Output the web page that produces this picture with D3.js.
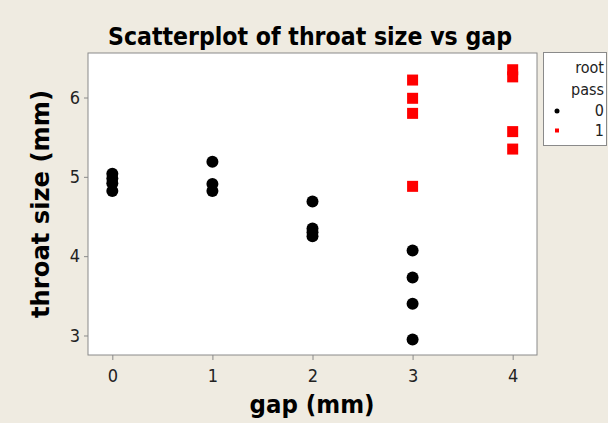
<!DOCTYPE html>
<html>
<head>
<meta charset="utf-8">
<script src="https://cdn.jsdelivr.net/npm/d3@7/dist/d3.min.js"></script>
<style>
  html, body { margin: 0; padding: 0; background: #efebe1; }
  svg { display: block; }
  .tick-label { font-family: "DejaVu Sans Condensed", "DejaVu Sans", sans-serif; font-size: 18px; fill: #222; }
  .axis-title { font-family: "DejaVu Sans Condensed", "DejaVu Sans", sans-serif; font-weight: bold; font-size: 24px; fill: #000; }
  .legend-text { font-family: "DejaVu Sans Condensed", "DejaVu Sans", sans-serif; font-size: 16px; fill: #222; }
</style>
</head>
<body>
<script>
  // gap (mm) / throat size (mm), split by root pass
  var gap0 = [0, 0, 0, 0, 1, 1, 1, 2, 2, 2, 2, 3, 3, 3, 3];
  var throat0 = [5.04, 4.98, 4.92, 4.82, 5.19, 4.91, 4.82, 4.69, 4.35, 4.30, 4.25, 4.07, 3.73, 3.40, 2.95];
  var gap1 = [3, 3, 3, 3, 4, 4, 4, 4];
  var throat1 = [6.22, 5.99, 5.80, 4.88, 6.35, 6.26, 5.57, 5.35];
  var xTicks = [0, 1, 2, 3, 4];
  var yTicks = [3, 4, 5, 6];
  var legendLabels = ['0', '1'];

  var width = 608, height = 423;
  var frame = { left: 88, right: 537, top: 53, bottom: 355 };

  var svg = d3.select('body').append('svg')
    .attr('width', width)
    .attr('height', height);

  svg.append('rect')
    .attr('width', width)
    .attr('height', height)
    .attr('fill', '#efebe1');

  var x = d3.scaleLinear()
    .domain([-0.243, 4.243])
    .range([frame.left, frame.right]);

  var y = d3.scaleLinear()
    .domain([2.754, 6.561])
    .range([frame.bottom, frame.top]);

  // plot area
  svg.append('rect')
    .attr('x', frame.left)
    .attr('y', frame.top)
    .attr('width', frame.right - frame.left)
    .attr('height', frame.bottom - frame.top)
    .attr('fill', '#fff')
    .attr('stroke', '#8a8a8a')
    .attr('stroke-width', 1);

  // x axis ticks
  var xAxis = svg.append('g')
    .attr('transform', 'translate(0,' + frame.bottom + ')')
    .call(d3.axisBottom(x).tickValues(xTicks).tickSize(5).tickPadding(9).tickFormat(d3.format('d')));
  xAxis.select('.domain').remove();
  xAxis.selectAll('line').attr('stroke', '#8a8a8a');
  xAxis.selectAll('text').attr('class', 'tick-label').attr('font-size', null).attr('font-family', null);

  // y axis ticks
  var yAxis = svg.append('g')
    .attr('transform', 'translate(' + frame.left + ',0)')
    .call(d3.axisLeft(y).tickValues(yTicks).tickSize(4).tickPadding(4).tickFormat(d3.format('d')));
  yAxis.select('.domain').remove();
  yAxis.selectAll('line').attr('stroke', '#8a8a8a');
  yAxis.selectAll('text').attr('class', 'tick-label').attr('font-size', null).attr('font-family', null);

  // titles
  svg.append('text')
    .attr('class', 'axis-title')
    .attr('x', 310)
    .attr('y', 45)
    .attr('text-anchor', 'middle')
    .attr('textLength', 404)
    .attr('lengthAdjust', 'spacingAndGlyphs')
    .text('Scatterplot of throat size vs gap');

  svg.append('text')
    .attr('class', 'axis-title')
    .attr('x', 312)
    .attr('y', 413)
    .attr('text-anchor', 'middle')
    .attr('textLength', 125)
    .attr('lengthAdjust', 'spacingAndGlyphs')
    .text('gap (mm)');

  svg.append('text')
    .attr('class', 'axis-title')
    .attr('transform', 'translate(49,204) rotate(-90)')
    .attr('text-anchor', 'middle')
    .attr('textLength', 228)
    .attr('lengthAdjust', 'spacingAndGlyphs')
    .text('throat size (mm)');

  // points
  var pts0 = gap0.map(function(g, i) { return { gap: g, throat: throat0[i] }; });
  var pts1 = gap1.map(function(g, i) { return { gap: g, throat: throat1[i] }; });

  svg.append('g').selectAll('circle')
    .data(pts0)
    .enter().append('circle')
    .attr('cx', function(d) { return x(d.gap); })
    .attr('cy', function(d) { return y(d.throat); })
    .attr('r', 6)
    .attr('fill', '#000');

  var sq = 11;
  svg.append('g').selectAll('rect')
    .data(pts1)
    .enter().append('rect')
    .attr('x', function(d) { return x(d.gap) - sq / 2; })
    .attr('y', function(d) { return y(d.throat) - sq / 2; })
    .attr('width', sq)
    .attr('height', sq)
    .attr('fill', '#ff0000');

  // legend
  var legend = svg.append('g');
  legend.append('rect')
    .attr('x', 543.5)
    .attr('y', 52.5)
    .attr('width', 63)
    .attr('height', 93)
    .attr('fill', '#fff')
    .attr('stroke', '#8a8a8a');

  legend.append('text').attr('class', 'legend-text')
    .attr('x', 604).attr('y', 73).attr('text-anchor', 'end').text('root');
  legend.append('text').attr('class', 'legend-text')
    .attr('x', 604).attr('y', 95).attr('text-anchor', 'end').text('pass');

  legend.selectAll('text.legend-item')
    .data(legendLabels)
    .enter().append('text')
    .attr('class', 'legend-text legend-item')
    .attr('x', 604)
    .attr('y', function(d, i) { return 116 + i * 20; })
    .attr('text-anchor', 'end')
    .text(function(d) { return d; });

  legend.append('circle')
    .attr('cx', 557).attr('cy', 111).attr('r', 2.5).attr('fill', '#000');
  legend.append('rect')
    .attr('x', 555).attr('y', 128.5).attr('width', 4).attr('height', 4).attr('fill', '#ff0000');
</script>
</body>
</html>
